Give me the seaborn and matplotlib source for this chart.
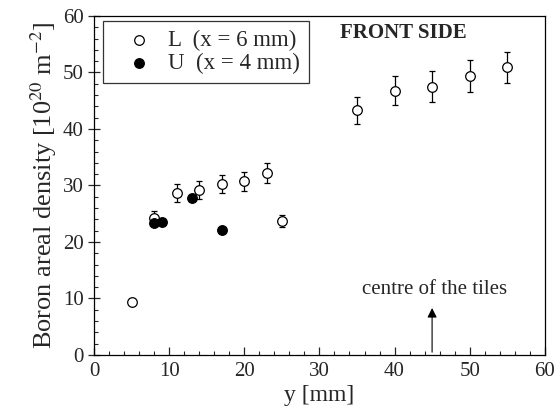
import matplotlib
matplotlib.use("Agg")
import matplotlib.pyplot as plt
import seaborn as sns
import numpy as np
import pandas as pd

sns.set_style("ticks")
plt.rcParams['font.family'] = ['Liberation Serif', 'DejaVu Serif']
plt.rcParams['mathtext.fontset'] = 'stix'

# L series (x = 6 mm), open circles with error bars
y_L = [5, 8, 11, 14, 17, 20, 23, 25, 35, 40, 45, 50, 55]
dens_L = [9.3, 24.3, 28.6, 29.2, 30.2, 30.7, 32.2, 23.7, 43.3, 46.8, 47.5, 49.4, 50.9]
err_L = [0.0, 1.2, 1.6, 1.6, 1.6, 1.6, 1.7, 1.1, 2.4, 2.6, 2.7, 2.8, 2.8]

# U series (x = 4 mm), filled circles
y_U = [8, 9, 13, 17]
dens_U = [23.3, 23.6, 27.8, 22.1]

df_L = pd.DataFrame({"y": y_L, "dens": dens_L})
df_U = pd.DataFrame({"y": y_U, "dens": dens_U})

fig = plt.figure(figsize=(5.57, 4.08), dpi=100)
ax = fig.add_axes([0.169, 0.130, 0.809, 0.831])

ax.errorbar(y_L, dens_L, yerr=err_L, fmt='none', ecolor='black',
            elinewidth=0.9, capsize=2.5, capthick=0.9, zorder=2)
sns.scatterplot(data=df_L, x="y", y="dens", ax=ax, marker='o', s=48,
                facecolor='white', edgecolor='black', linewidth=0.9,
                label='L  (x = 6 mm)', zorder=3)
sns.scatterplot(data=df_U, x="y", y="dens", ax=ax, marker='o', s=48,
                color='black', edgecolor='black', linewidth=0.9,
                label='U  (x = 4 mm)', zorder=4)

ax.set_xlim(0, 60)
ax.set_ylim(0, 60)
ax.set_xticks(np.arange(0, 61, 10))
ax.set_yticks(np.arange(0, 61, 10))
ax.set_xticks(np.arange(0, 61, 2), minor=True)
ax.set_yticks(np.arange(0, 61, 2), minor=True)
ax.tick_params(axis='x', which='major', direction='in', length=6, width=0.9, labelsize=15, pad=5)
ax.tick_params(axis='x', which='minor', direction='in', length=3, width=0.8)
ax.tick_params(axis='y', which='major', direction='inout', length=9, width=0.9, labelsize=15, pad=3)
ax.tick_params(axis='y', which='minor', direction='in', length=3, width=0.8)
for s in ax.spines.values():
    s.set_linewidth(0.9)
    s.set_color('black')

ax.set_xlabel("y [mm]", fontsize=17, labelpad=3)
ax.set_ylabel(r"Boron areal density [10$^{20}$ m$^{-2}$]", fontsize=19, labelpad=3)

ax.text(41.2, 57, "FRONT SIDE", fontsize=15, fontweight='bold', ha='center', va='center')
ax.annotate("", xy=(45, 8.8), xytext=(45, 0),
            arrowprops=dict(arrowstyle='-|>', color='black', lw=0.8, mutation_scale=14))
ax.text(45.3, 11.6, "centre of the tiles", fontsize=15, ha='center', va='center')

leg = ax.legend(loc='upper left', bbox_to_anchor=(0.02, 0.985), borderaxespad=0,
                frameon=True, fancybox=False, edgecolor='black', fontsize=16.5,
                handletextpad=0.07, borderpad=0.4, labelspacing=0.05, handlelength=2.35)
leg.get_frame().set_linewidth(0.9)

fig.savefig("out.png", dpi=100)
